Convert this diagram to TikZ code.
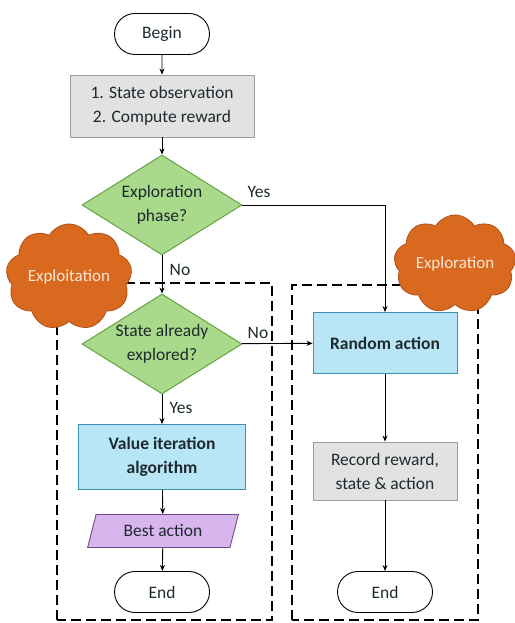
\documentclass[tikz,border=0pt]{standalone}
\usepackage{fontspec}
\setmainfont{Carlito}
\usetikzlibrary{shapes.geometric,shapes.misc,shapes.symbols,arrows.meta}

\definecolor{grayfill}{HTML}{E2E2E2}
\definecolor{grayline}{HTML}{9A9A9A}
\definecolor{greenfill}{HTML}{A9D98A}
\definecolor{greenline}{HTML}{5E9E3A}
\definecolor{bluefill}{HTML}{B8E6F6}
\definecolor{blueline}{HTML}{3F8FAE}
\definecolor{purplefill}{HTML}{D9B5EE}
\definecolor{purpleline}{HTML}{6E4A8E}
\definecolor{orangefill}{HTML}{D9691F}
\definecolor{orangeline}{HTML}{B4541A}
\definecolor{cloudtext}{HTML}{F8E6D6}
\definecolor{inktext}{HTML}{1E2A2E}

\tikzset{
  txt/.style={font=\fontsize{17.5}{24}\selectfont, text=inktext},
  terminal/.style={txt, draw=black, line width=0.9pt, rounded rectangle, minimum width=95pt,
    minimum height=41pt, inner sep=0pt},
  procbox/.style={txt, draw=grayline, fill=grayfill, line width=0.9pt, minimum width=184pt,
    minimum height=62pt, inner sep=0pt, align=center},
  decision/.style={txt, draw=greenline, fill=greenfill, line width=0.9pt, diamond, aspect=1.6,
    minimum width=160pt, minimum height=100pt, inner sep=0pt, align=center},
  actbox/.style={draw=blueline, fill=bluefill, line width=0.9pt, minimum width=144pt,
    minimum height=61pt, inner sep=0pt, align=center,
    font=\bfseries\fontsize{17.5}{24}\selectfont, text=inktext},
  recbox/.style={txt, draw=grayline, fill=grayfill, line width=0.9pt, minimum width=144pt,
    minimum height=58pt, inner sep=0pt, align=center},
  iobox/.style={txt, draw=purpleline, fill=purplefill, line width=0.9pt, trapezium,
    trapezium left angle=68, trapezium right angle=112, trapezium stretches=true,
    minimum width=152pt, minimum height=33pt, inner sep=0pt},
  phase/.style={draw=orangeline, fill=orangefill, line width=0.9pt, cloud, cloud puffs=9,
    cloud puff arc=120, inner sep=0pt},
  phasetext/.style={font=\fontsize{17}{20}\selectfont, text=cloudtext, inner sep=0pt},
  region/.style={draw=black, line width=1.2pt, dash pattern=on 10pt off 5pt},
  flow/.style={draw=black, line width=0.9pt, -{Stealth[length=6pt,width=5pt]}},
  tag/.style={txt}
}

\begin{document}
\begin{tikzpicture}[x=1pt,y=1pt]
  \useasboundingbox (0,0) rectangle (514,623);

  % phase regions
  \draw[region] (57,3) rectangle (272,340);
  \draw[region] (292,3) rectangle (478,338);

  % main flow
  \node[terminal] (begin) at (162,589) {Begin};
  \node[procbox] (obs) at (162,517) {1. State observation\\2. Compute reward};
  \node[decision] (explq) at (162,418) {Exploration\\phase?};
  \node[decision] (seen) at (162,279) {State already\\explored?};
  \node[actbox] (rand) at (385,280) {Random action};
  \node[actbox, minimum width=167pt, minimum height=65pt] (vi) at (162,166) {Value iteration\\algorithm};
  \node[iobox] (best) at (163,92) {Best action};
  \node[terminal] (endl) at (162,31) {End};
  \node[recbox] (rec) at (385,152) {Record reward,\\state \& action};
  \node[terminal] (endr) at (385,31) {End};

  % phase clouds with their captions
  \node[phase, minimum width=126pt, minimum height=106pt] (cexploit) at (69,346) {};
  \node[phasetext] (cexploitlbl) at (cexploit.center) {Exploitation};
  \node[phase, minimum width=122pt, minimum height=98pt] (cexplore) at (455,359) {};
  \node[phasetext] (cexplorelbl) at (cexplore.center) {Exploration};

  % connectors
  \draw[flow] (begin) -- (obs);
  \draw[flow] (obs) -- (explq);
  \draw[flow] (explq.east) -| (rand.north);
  \draw[flow] (explq) -- (seen);
  \draw[flow] (seen) -- (rand);
  \draw[flow] (seen) -- (vi);
  \draw[flow] (vi) -- (best);
  \draw[flow] (best) -- (endl);
  \draw[flow] (rand) -- (rec);
  \draw[flow] (rec) -- (endr);

  % branch labels
  \node[tag] (yes1) at (259,431) {Yes};
  \node[tag] (no1) at (180,353) {No};
  \node[tag] (no2) at (258,290) {No};
  \node[tag] (yes2) at (181,215) {Yes};
\end{tikzpicture}
\end{document}
